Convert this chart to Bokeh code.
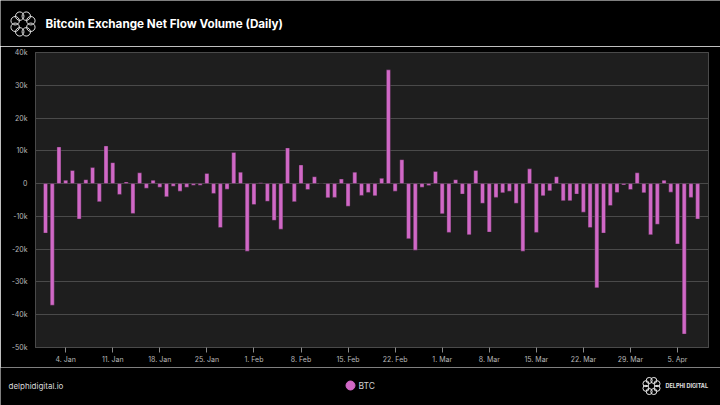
import math
import pandas as pd
from bokeh.plotting import figure
from bokeh.layouts import column
from bokeh.models import (Range1d, NumeralTickFormatter, DatetimeTickFormatter, FixedTicker,
                          ColumnDataSource)
from bokeh.core.properties import value
from bokeh.embed import file_html
from bokeh.resources import INLINE

# ---------------- data ----------------
start_date = "2021-01-01"
jan = [-15.1, -37.1, 11.2, 1.0, 4.0, -10.8, 1.2, 4.9, -5.5, 11.5, 6.4, -3.3, 0.5, -9.1, 3.3, -1.4,
       1.0, -1.1, -4.0, -0.8, -2.3, -1.1, -0.5, -0.5, 3.1, -3.0, -13.4, -1.7, 9.5, 3.5, -20.6]
feb = [-6.4, 0.3, -5.4, -11.2, -13.9, 10.9, -5.5, 5.7, -1.8, 2.1, 0.0, -4.3, -4.2, 1.4, -6.9, 3.5,
       -3.6, -2.7, -3.7, 1.6, 34.7, -2.3, 7.3, -16.8, -20.3, -1.1, -0.6, 3.7]
mar = [-9.2, -14.9, 1.2, -3.2, -15.6, 4.0, -6.0, -14.8, -4.2, -2.8, -2.3, -6.0, -20.6, 4.5, -14.9, -3.7,
       -2.2, 2.1, -5.2, -5.2, -3.2, -8.7, -13.4, -31.8, -15.1, -6.7, -2.7, -0.4, -1.8, 3.3, -2.8]
apr = [-15.6, -12.4, 1.0, -2.6, -18.4, -45.9, -4.2, -10.8]
btc_k = jan + feb + mar + apr  # thousands of BTC
tick_dates = ["2021-01-04", "2021-01-11", "2021-01-18", "2021-01-25", "2021-02-01", "2021-02-08",
              "2021-02-15", "2021-02-22", "2021-03-01", "2021-03-08", "2021-03-15", "2021-03-22",
              "2021-03-29", "2021-04-05"]
y_ticks = [-50000, -40000, -30000, -20000, -10000, 0, 10000, 20000, 30000, 40000]
series_name = "BTC"
title_text = "Bitcoin Exchange Net Flow Volume (Daily)"
footer_text = "delphidigital.io"
brand_text = "DELPHI DIGITAL"

dates = pd.date_range(start_date, periods=len(btc_k), freq="D")
src = ColumnDataSource(dict(date=dates, value=[v * 1000 for v in btc_k]))

W = 720
HEAD_H, MAIN_H, FOOT_H = 46, 321, 38
BAR = "#d068c6"
FONT = "Inter"
DAY = 86400000


def no_align(f):
    try:
        f.frame_align = False
    except Exception:
        pass


def blank(height):
    f = figure(width=W, height=height, output_backend="svg", toolbar_location=None,
               x_range=Range1d(0, W), y_range=Range1d(height, 0),
               x_axis_location=None, y_axis_location=None,
               min_border=0, min_border_left=0, min_border_right=0,
               min_border_top=0, min_border_bottom=0)
    f.grid.visible = False
    f.outline_line_color = None
    f.background_fill_color = "#000000"
    f.border_fill_color = "#000000"
    no_align(f)
    return f


def logo(f, cx, cy, ring_r, loop_d, n=8):
    xs, ys = [], []
    for k in range(n):
        a = 2 * math.pi * k / n + math.pi / 8
        xs.append(cx + ring_r * math.cos(a))
        ys.append(cy + ring_r * math.sin(a))
    f.scatter(xs, ys, size=loop_d, marker="circle", fill_alpha=0,
              line_color="#e6e6e6", line_width=1)


# ---------------- header ----------------
head = blank(HEAD_H)
logo(head, 22.5, 23.5, 8.5, 8.4)
head.text(x=[45], y=[23], text=[title_text], text_font=value(FONT), text_font_style="bold",
          text_font_size="11.7px", text_color="#ffffff", text_baseline="middle")

# ---------------- main chart ----------------
p = figure(width=W, height=MAIN_H, output_backend="svg", toolbar_location=None,
           x_axis_type="datetime",
           x_range=Range1d(pd.Timestamp("2020-12-30 12:14"), pd.Timestamp("2021-04-09 14:40")),
           y_range=Range1d(-50000, 40000),
           min_border_left=35, min_border_right=12, min_border_top=6, min_border_bottom=20)
p.background_fill_color = "#1e1e1e"
p.border_fill_color = "#000000"
p.outline_line_color = "#4a4a4a"
p.outline_line_width = 1
no_align(p)

p.vbar(x="date", top="value", bottom=0, width=0.6 * DAY, source=src,
       fill_color=BAR, line_color="#2a1f29", line_width=0.4)

p.xaxis.ticker = FixedTicker(ticks=[pd.Timestamp(d).value // 10**6 for d in tick_dates])
p.xaxis.formatter = DatetimeTickFormatter(days="%-d. %b", months="%-d. %b")
p.xaxis.major_tick_out = 5
p.xaxis.major_tick_in = 0
p.xaxis.minor_tick_out = 0
p.xaxis.minor_tick_in = 0
p.xaxis.major_tick_line_color = "#8a8a8a"
p.xaxis.axis_line_color = "#4a4a4a"
p.xaxis.major_label_standoff = 2
p.yaxis.ticker = FixedTicker(ticks=y_ticks)
p.yaxis.formatter = NumeralTickFormatter(format="0a")
p.yaxis.major_tick_out = 0
p.yaxis.major_tick_in = 0
p.yaxis.minor_tick_out = 0
p.yaxis.minor_tick_in = 0
p.yaxis.axis_line_color = None
p.yaxis.major_label_standoff = 8
for ax in (p.xaxis, p.yaxis):
    ax.major_label_text_color = "#b8b8b8"
    ax.major_label_text_font = FONT
    ax.major_label_text_font_size = "7px"
p.xgrid.grid_line_color = None
p.ygrid.grid_line_color = "#4a4a4a"
p.ygrid.grid_line_width = 1

# ---------------- footer ----------------
foot = blank(FOOT_H)
fy = 18
foot.text(x=[8], y=[fy], text=[footer_text], text_font=value(FONT), text_font_size="8px",
          text_color="#d8d8d8", text_baseline="middle")
foot.scatter([350], [fy], size=9, marker="circle", fill_color=BAR, line_color=BAR)
foot.text(x=[358], y=[fy + 0.5], text=[series_name], text_font=value(FONT), text_font_size="8.5px",
          text_color="#d0d0d0", text_baseline="middle")
logo(foot, 651, fy + 0.5, 6, 6)
foot.text(x=[665], y=[fy + 0.5], text=[brand_text], text_font=value(FONT), text_font_style="bold",
          text_font_size="5.5px", text_color="#e0e0e0", text_baseline="middle")

layout = column(head, p, foot, spacing=0)
open("out.html", "w").write(file_html(layout, INLINE))
